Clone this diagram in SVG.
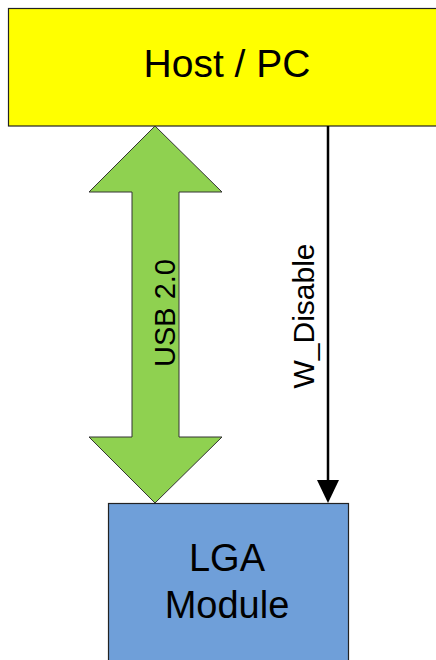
<svg xmlns="http://www.w3.org/2000/svg" width="436" height="660" viewBox="0 0 436 660">
<defs>
<style>
.lbl{font-family:"Liberation Sans",Arial,sans-serif;fill:#000;}
.box{stroke:#222;stroke-width:1.2;}
</style>
</defs>
<rect width="436" height="660" fill="#fff"/>
<g id="host">
<rect class="box" x="8.5" y="8.5" width="440" height="117.5" fill="#ffff00"/>
<text class="lbl" x="227" y="77" font-size="39" text-anchor="middle">Host / PC</text>
</g>
<g id="lga">
<rect class="box" x="108.5" y="503.5" width="240" height="170" fill="#6f9fd9"/>
<text class="lbl" x="227" y="571" font-size="38" text-anchor="middle">LGA</text>
<text class="lbl" x="227" y="618" font-size="38" text-anchor="middle">Module</text>
</g>
<g id="connectors">
<g id="usb">
<polygon points="155,126 89,192 132,192 132,437 89,437 155,503 222,437 179,437 179,192 222,192" fill="#8fd150" stroke="#333" stroke-width="1"/>
<text class="lbl" font-size="29" text-anchor="middle" transform="translate(175 313) rotate(-90)">USB 2.0</text>
</g>
<g id="wdisable">
<line x1="328" y1="126" x2="328" y2="482" stroke="#000" stroke-width="2.5"/>
<polygon points="317,480 339,480 328,503" fill="#000"/>
<text class="lbl" font-size="30" text-anchor="middle" transform="translate(314 316) rotate(-90)">W_Disable</text>
</g>
</g>
</svg>
